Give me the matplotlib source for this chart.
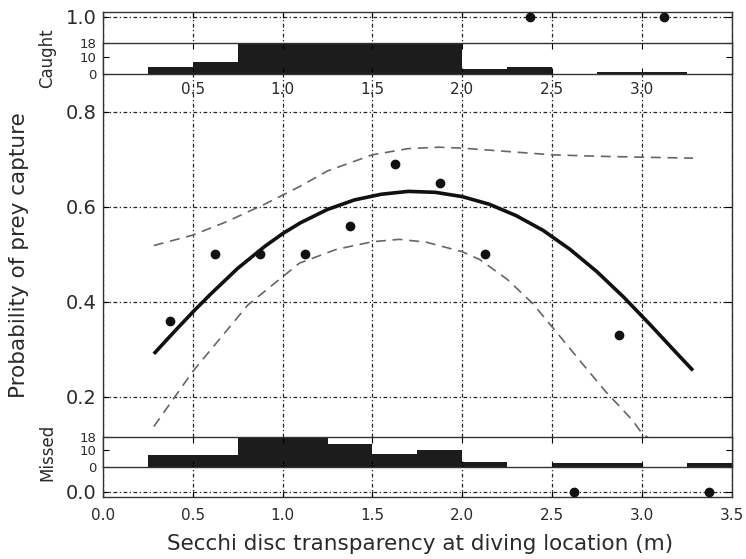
import matplotlib
matplotlib.use('Agg')
import matplotlib.pyplot as plt
import numpy as np

# binned data (bins of 0.25 m from 0.25 to 3.5)
bin_left = [0.25, 0.5, 0.75, 1.0, 1.25, 1.5, 1.75, 2.0, 2.25, 2.5, 2.75, 3.0, 3.25]
caught = [4, 7, 18, 17, 18, 17, 18, 3, 4, 0, 1, 1, 0]
missed = [7, 7, 18, 18, 14, 8, 10, 3, 0, 2, 2, 0, 2]

# observed proportion caught, at bin centres
obs_x = [0.375, 0.625, 0.875, 1.125, 1.375, 1.625, 1.875, 2.125, 2.375, 2.625, 2.875, 3.125, 3.375]
obs_p = [0.36, 0.50, 0.50, 0.50, 0.56, 0.69, 0.65, 0.50, 1.0, 0.0, 0.33, 1.0, 0.0]

# fitted curve
fit_x = [0.283, 0.4, 0.5, 0.6, 0.75, 0.9, 1.0, 1.1, 1.25, 1.4, 1.55, 1.7, 1.85,
         2.0, 2.15, 2.3, 2.45, 2.6, 2.75, 2.9, 3.05, 3.2, 3.285]
fit_p = [0.290, 0.338, 0.378, 0.416, 0.470, 0.516, 0.543, 0.566, 0.594, 0.614, 0.626, 0.632, 0.630,
         0.621, 0.605, 0.581, 0.550, 0.510, 0.463, 0.409, 0.350, 0.289, 0.255]

# confidence band
up_x = [0.283, 0.5, 0.687, 0.9, 1.094, 1.25, 1.5, 1.7, 1.87, 2.0, 2.25, 2.5, 2.75, 3.0, 3.285]
up_p = [0.518, 0.540, 0.568, 0.605, 0.642, 0.675, 0.709, 0.722, 0.725, 0.723, 0.716, 0.709, 0.706, 0.704, 0.702]
lo_x = [0.283, 0.5, 0.807, 1.094, 1.3, 1.5, 1.65, 1.8, 2.0, 2.1, 2.25, 2.39, 2.5, 2.674, 2.8, 2.946, 3.0, 3.1, 3.2, 3.285]
lo_p = [0.137, 0.253, 0.393, 0.481, 0.510, 0.526, 0.531, 0.525, 0.505, 0.488, 0.447, 0.397, 0.347, 0.267, 0.210, 0.151, 0.123, 0.095, 0.070, 0.052]

xticks = [0.0, 0.5, 1.0, 1.5, 2.0, 2.5, 3.0, 3.5]
yticks = [0.0, 0.2, 0.4, 0.6, 0.8, 1.0]
hist_xticks = [0.5, 1.0, 1.5, 2.0, 2.5, 3.0]

txt = '#2a2a2a'
plt.rcParams['font.family'] = ['DejaVu Sans']

fig = plt.figure(figsize=(7.46, 5.59), dpi=100)
ax = fig.add_axes([0.1381, 0.1104, 0.8426, 0.8676])

ax.plot(up_x, up_p, color='#666666', lw=1.2, ls=(0, (6, 4)))
ax.plot(lo_x, lo_p, color='#666666', lw=1.2, ls=(0, (6, 4)))
ax.plot(fit_x, fit_p, color='#111111', lw=2.6, solid_capstyle='butt')
ax.plot(obs_x, obs_p, 'o', color='#111111', ms=6, zorder=5)

ax.set_xlim(0, 3.5)
ax.set_ylim(-0.012, 1.009)
ax.set_xticks(xticks)
ax.set_yticks(yticks)
ax.set_xticklabels(['%.1f' % v for v in xticks])
ax.set_yticklabels(['%.1f' % v for v in yticks])
ax.tick_params(axis='x', direction='in', length=4, pad=8, labelsize=11, labelcolor=txt, top=True)
ax.tick_params(axis='y', direction='in', length=4, pad=4.5, labelsize=14, labelcolor=txt, right=True)
ax.grid(True, color='#222222', lw=0.9, ls=(0, (3, 2, 1, 2)))
for s in ax.spines.values():
    s.set_color('#333333')
    s.set_linewidth(1.0)

ax.set_xlabel('Secchi disc transparency at diving location (m)', fontsize=15.5, color=txt)
ax.xaxis.set_label_coords(0.5036, -0.075)
ax.set_ylabel('Probability of prey capture', fontsize=15.5, color=txt)
ax.yaxis.set_label_coords(-0.118, 0.5)

def histPanel(rect, counts, label, showLabels):
    h = fig.add_axes(rect)
    h.set_facecolor('white')
    h.bar(bin_left, counts, width=0.25, align='edge', color='#1c1c1c', lw=0)
    h.set_xlim(0, 3.5)
    h.set_ylim(0, 18)
    h.set_yticks([0, 10, 18])
    h.set_xticks(hist_xticks)
    if showLabels:
        h.set_xticklabels(['%.1f' % v for v in hist_xticks])
    else:
        h.set_xticklabels([])
    h.tick_params(axis='x', direction='in', length=4, pad=5.5, labelsize=11, labelcolor=txt, top=True)
    h.tick_params(axis='y', direction='in', length=4, pad=4.5, labelsize=9.5, labelcolor=txt, right=True)
    for s in h.spines.values():
        s.set_color('#333333')
        s.set_linewidth(1.0)
    h.set_ylabel(label, fontsize=12, color=txt)
    h.yaxis.set_label_coords(-0.074, 0.5)
    return h

histPanel([0.1381, 0.8676, 0.8426, 0.0560], caught, 'Caught', True)
histPanel([0.1381, 0.1651, 0.8426, 0.0526], missed, 'Missed', False)

fig.savefig('out.png', dpi=100)
